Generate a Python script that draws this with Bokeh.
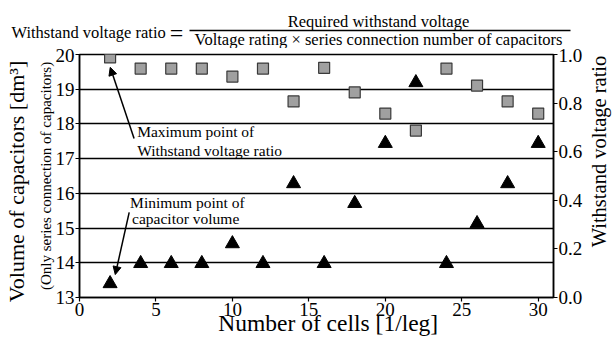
import math
from bokeh.plotting import figure
from bokeh.layouts import row
from bokeh.models import (Range1d, LinearAxis, Label, Arrow, NormalHead,
                          FixedTicker, PrintfTickFormatter)
from bokeh.core.properties import value
from bokeh.embed import file_html
from bokeh.resources import INLINE

# ---- data ----
cells = [2, 4, 6, 8, 10, 12, 14, 16, 18, 20, 22, 24, 26, 28, 30]
volume = [13.40, 13.98, 13.98, 13.98, 14.55, 13.98, 16.28, 13.98, 15.71,
          17.44, 19.19, 13.98, 15.13, 16.28, 17.44]
ratio = [0.988, 0.942, 0.942, 0.942, 0.909, 0.942, 0.807, 0.945, 0.844,
         0.757, 0.687, 0.942, 0.872, 0.807, 0.757]
x_ticks = [0, 5, 10, 15, 20, 25, 30]
left_ticks = [13, 14, 15, 16, 17, 18, 19, 20]
right_ticks = [0.0, 0.2, 0.4, 0.6, 0.8, 1.0]

FONT = "Liberation Serif"
NB = "\u00a0"

def bare(fig):
    fig.grid.visible = False
    fig.outline_line_color = None

# ---------------- formula strip (separate root) ----------------
TOP_H = 48
top = figure(width=615, height=TOP_H, output_backend="svg", toolbar_location=None,
             x_range=Range1d(0, 615), y_range=Range1d(TOP_H, 0),
             x_axis_location=None, y_axis_location=None,
             min_border=0, min_border_left=0, min_border_right=0,
             min_border_top=0, min_border_bottom=0,
             background_fill_color="white", border_fill_color="white")
bare(top)

def ttext(x, y, s, size, align):
    top.text(x=[x], y=[y], text=[s], text_font=value(FONT),
             text_font_size=value(size), text_align=align,
             text_baseline="alphabetic", text_color="black")

ttext(11, 31.5, "Withstand voltage ratio", "16.5px", "left")
ttext(176, 32, "=", "24px", "center")
ttext(378, 20.5, "Required withstand voltage", "16.5px", "center")
ttext(378, 39, "Voltage rating \u00d7 series connection number of capacitors", "16.5px", "center")
top.segment(x0=[189], y0=[30], x1=[570], y1=[30], line_color="black", line_width=1.3)

# ---------------- main chart ----------------
MAIN_H = 340 - TOP_H
MAIN_W = 585
p = figure(width=MAIN_W, height=MAIN_H, output_backend="svg", toolbar_location=None,
           x_range=Range1d(0, 31), y_range=Range1d(13, 20),
           min_border_left=79, min_border_right=29, min_border_top=54 - TOP_H,
           min_border_bottom=43, background_fill_color="white",
           border_fill_color="white")
p.extra_y_ranges = {"ratio": Range1d(0, 1)}

p.outline_line_color = "black"
p.outline_line_width = 1.5
p.xgrid.visible = False
p.ygrid.ticker = FixedTicker(ticks=left_ticks)
p.ygrid.grid_line_color = "black"
p.ygrid.grid_line_width = 1.5

def style_axis(ax):
    ax.axis_line_color = "black"
    ax.axis_line_width = 1.5
    ax.major_tick_line_color = "black"
    ax.major_tick_line_width = 1.2
    ax.major_tick_out = 4
    ax.major_tick_in = 0
    ax.minor_tick_line_color = None
    ax.major_label_text_font = FONT
    ax.major_label_text_font_size = "19px"
    ax.major_label_text_color = "black"
    ax.major_label_standoff = 1
    ax.axis_label_text_font = FONT
    ax.axis_label_text_font_style = "normal"
    ax.axis_label_text_color = "black"

xax = p.xaxis[0]
xax.ticker = FixedTicker(ticks=x_ticks)
style_axis(xax)
xax.axis_label = NB * 4 + "Number of cells [1/leg]"
xax.axis_label_text_font_size = "23.5px"
xax.axis_label_standoff = -9

yax = p.yaxis[0]
yax.ticker = FixedTicker(ticks=left_ticks)
style_axis(yax)
yax.axis_label = "(Only series connection of capacitors)"
yax.axis_label_text_font_size = "15px"
yax.axis_label_standoff = -1

yout = LinearAxis(ticker=FixedTicker(ticks=[]))
style_axis(yout)
yout.axis_line_color = None
yout.major_tick_out = 0
yout.major_label_standoff = 0
yout.axis_label = "Volume of capacitors [dm\u00b3]" + NB * 2
yout.axis_label_text_font_size = "22px"
yout.axis_label_standoff = 6
p.add_layout(yout, "left")

rax = LinearAxis(y_range_name="ratio", ticker=FixedTicker(ticks=right_ticks),
                 formatter=PrintfTickFormatter(format="%.1f"))
style_axis(rax)
p.add_layout(rax, "right")

p.scatter(cells, ratio, marker="square", size=11, fill_color="#a0a0a0",
          line_color="#3a3a3a", line_width=1.2, y_range_name="ratio")
p.scatter(cells, volume, marker="triangle", size=14, fill_color="black",
          line_color="black")

def lab(x, y, text, size="15.5px"):
    p.add_layout(Label(x=x, y=y, text=text, text_font=FONT,
                       text_font_size=size, text_align="left",
                       text_baseline="middle", text_color="black"))

lab(3.77, 17.78, "Maximum point of")
lab(3.77, 17.23, "Withstand voltage ratio")
p.add_layout(Arrow(end=NormalHead(size=8, fill_color="black", line_color="black"),
                   x_start=3.57, y_start=17.58, x_end=2.01, y_end=19.63,
                   line_color="black", line_width=1.5))
lab(3.31, 15.73, "Minimum point of")
lab(3.44, 15.27, "capacitor volume")
p.add_layout(Arrow(end=NormalHead(size=8, fill_color="black", line_color="black"),
                   x_start=3.25, y_start=15.45, x_end=2.34, y_end=13.66,
                   line_color="black", line_width=1.5))

# ---------------- right title strip ----------------
STRIP_W = 615 - MAIN_W
FRAME_H = MAIN_H - (54 - TOP_H) - 43
strip = figure(width=STRIP_W, height=MAIN_H, output_backend="svg", toolbar_location=None,
               x_range=Range1d(0, STRIP_W), y_range=Range1d(0, FRAME_H),
               x_axis_location=None, y_axis_location=None,
               min_border_left=0, min_border_right=0,
               min_border_top=54 - TOP_H, min_border_bottom=43,
               background_fill_color="white", border_fill_color="white")
bare(strip)
strip.text(x=[13], y=[146], text=["Withstand voltage ratio"], angle=math.pi / 2,
           text_font=value(FONT), text_font_size=value("20.5px"),
           text_align="center", text_baseline="middle", text_color="black")

open("out.html", "w").write(file_html([top, row(p, strip, spacing=0)], INLINE))
